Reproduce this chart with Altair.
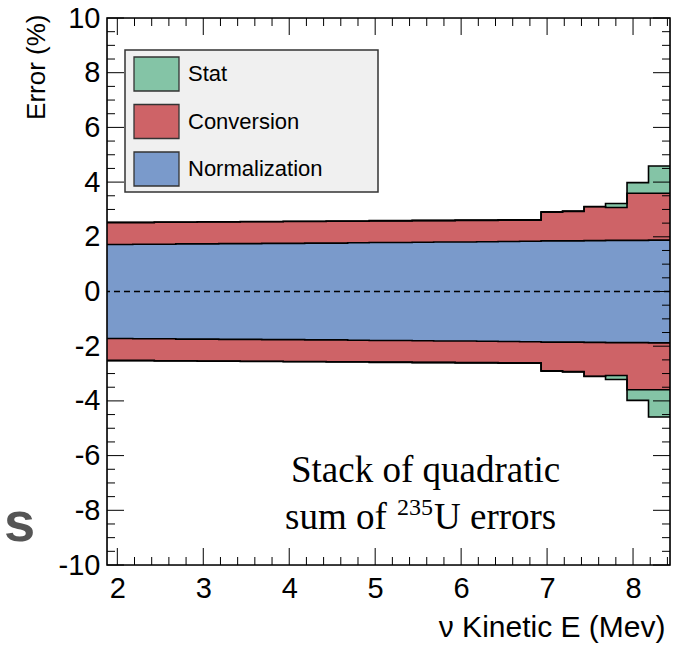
import altair as alt
import pandas as pd

# Energy bins (MeV): lower edges, 0.25 MeV wide; last upper edge separately
bin_lo = [1.68, 1.93, 2.18, 2.43, 2.68, 2.93, 3.18, 3.43, 3.68, 3.93, 4.18,
          4.43, 4.68, 4.93, 5.18, 5.43, 5.68, 5.93, 6.18, 6.43, 6.68, 6.93,
          7.18, 7.43, 7.68, 7.93, 8.18]
bin_last_hi = 8.43

# Cumulative (quadratic-sum) error levels in %, one value per bin
norm_err = [1.72, 1.72, 1.73, 1.73, 1.74, 1.74, 1.75, 1.75, 1.76, 1.76, 1.77,
            1.77, 1.78, 1.79, 1.79, 1.80, 1.81, 1.81, 1.82, 1.83, 1.84, 1.85,
            1.85, 1.86, 1.87, 1.87, 1.88]
conv_err = [2.52, 2.52, 2.52, 2.53, 2.53, 2.54, 2.54, 2.55, 2.55, 2.56, 2.56,
            2.57, 2.57, 2.58, 2.58, 2.59, 2.59, 2.60, 2.60, 2.61, 2.61, 2.90,
            2.93, 3.10, 3.07, 3.59, 3.59]
stat_err = [2.53, 2.53, 2.53, 2.54, 2.54, 2.55, 2.55, 2.56, 2.56, 2.57, 2.57,
            2.58, 2.58, 2.59, 2.59, 2.60, 2.60, 2.61, 2.61, 2.62, 2.62, 2.91,
            2.94, 3.11, 3.22, 3.98, 4.59]

legend_labels = ["Stat", "Conversion", "Normalization"]
legend_colors = ["#84C4A6", "#CE6367", "#7A9ACB"]

x_major = [2, 3, 4, 5, 6, 7, 8]
x_minor = [round(2 + 0.2 * k, 1) for k in range(1, 33) if (k % 5) != 0]
y_major = list(range(-10, 11, 2))
y_minor = [v / 2 for v in range(-20, 21) if v % 4 != 0]

W, H = 563, 547
FONT = "Liberation Sans"
SERIF = "Liberation Serif"

# step points: each bin's lower edge plus the final upper edge
xs = bin_lo + [bin_last_hi]
def ext(v):
    return v + [v[-1]]

bands = pd.DataFrame({
    "x": xs,
    "norm": ext(norm_err),
    "conv": ext(conv_err),
    "stat": ext(stat_err),
})
bands["nnorm"] = -bands["norm"]
bands["nconv"] = -bands["conv"]
bands["nstat"] = -bands["stat"]

edges = pd.concat([
    pd.DataFrame({"x": xs, "v": bands[c], "edge": c})
    for c in ["stat", "conv", "norm", "nnorm", "nconv", "nstat"]
])

XS = alt.Scale(domain=[1.88, 8.43], nice=False, zero=False)
YS = alt.Scale(domain=[-10, 10], nice=False, zero=False)

XA = alt.Axis(
    values=x_major, ticks=False, domain=False, grid=False,
    labelFont=FONT, labelFontSize=29, labelColor="black", labelPadding=9,
    labelFlush=False,
    title="\u03bd Kinetic E (Mev)", titleFont=FONT, titleFontSize=30,
    titleFontWeight="normal", titleColor="black", titleAnchor="end",
    titleAlign="right", titleBaseline="alphabetic", titleX=558, titleY=71,
)
YA = alt.Axis(
    values=y_major, ticks=False, domain=False, grid=False,
    labelFont=FONT, labelFontSize=29, labelColor="black", labelPadding=7,
    labelFlush=False, labelExpr="'' + datum.value",
    title="Error (%)", titleFont=FONT, titleFontSize=26,
    titleFontWeight="normal", titleColor="black", titleAngle=-90,
    titleAlign="right", titleBaseline="middle", titleX=-71, titleY=-4,
)

def xe(field):
    return alt.X(field, type="quantitative", scale=XS, axis=XA)

def ye(field):
    return alt.Y(field, type="quantitative", scale=YS, axis=YA)

# filled bands, outermost first
area = alt.Chart(bands).mark_area(interpolate="step-after", clip=True)
green = area.encode(x=xe("x"), y=ye("stat"), y2="nstat", color=alt.value(legend_colors[0]))
red = area.encode(x=xe("x"), y=ye("conv"), y2="nconv", color=alt.value(legend_colors[1]))
blue = area.encode(x=xe("x"), y=ye("norm"), y2="nnorm", color=alt.value(legend_colors[2]))

outline = alt.Chart(edges).mark_line(
    interpolate="step-after", clip=True, color="black", strokeWidth=1.6
).encode(x=xe("x"), y=ye("v"), detail="edge:N")

zero_df = pd.DataFrame({"v": [0]})
zero_line = alt.Chart(zero_df).mark_rule(
    color="black", strokeWidth=1.3, strokeDash=[6, 4]
).encode(y=ye("v"))

# inward tick marks on all four sides
def xticks(vals, length, top):
    d = pd.DataFrame({"v": vals})
    y0, y1 = (0, length) if top else (H, H - length)
    return alt.Chart(d).mark_rule(color="black", strokeWidth=1).encode(
        x=xe("v"), y=alt.value(y0), y2=alt.value(y1))

def yticks(vals, length, right):
    d = pd.DataFrame({"v": vals})
    x0, x1 = (W, W - length) if right else (0, length)
    return alt.Chart(d).mark_rule(color="black", strokeWidth=1).encode(
        y=ye("v"), x=alt.value(x0), x2=alt.value(x1))

frame = alt.Chart(pd.DataFrame({"a": [0]})).mark_rect(
    fill=None, stroke="black", strokeWidth=1.6
).encode(x=alt.value(0), x2=alt.value(W), y=alt.value(0), y2=alt.value(H))

# legend panel
leg_box = alt.Chart(pd.DataFrame({"a": [0]})).mark_rect(
    fill="#F0F0F0", stroke="#333333", strokeWidth=1.5
).encode(x=alt.value(18), x2=alt.value(271), y=alt.value(32), y2=alt.value(174))

leg_swatches = []
leg_texts = []
for i, (lab, col) in enumerate(zip(legend_labels, legend_colors)):
    top = 39 + 47.5 * i
    d = pd.DataFrame({"label": [lab]})
    leg_swatches.append(
        alt.Chart(d).mark_rect(fill=col, stroke="#333333", strokeWidth=1.3).encode(
            x=alt.value(27), x2=alt.value(72), y=alt.value(top), y2=alt.value(top + 34)))
    leg_texts.append(
        alt.Chart(d).mark_text(
            align="left", baseline="middle", font=FONT, fontSize=22, color="black"
        ).encode(text="label:N", x=alt.value(81), y=alt.value(top + 17)))

# annotation text
def label(txt, x, y, size, align="left", font=SERIF, color="black", weight="normal"):
    return alt.Chart(pd.DataFrame({"t": [txt]})).mark_text(
        align=align, baseline="alphabetic", font=font, fontSize=size,
        color=color, fontWeight=weight
    ).encode(text="t:N", x=alt.value(x), y=alt.value(y))

ann = [
    label("Stack of quadratic", 184, 464, 37),
    label("sum of", 178, 511, 37),
    label("235", 290, 497, 24),
    label("U errors", 327, 511, 37),
    label("s", -103, 523, 56, font=FONT, color="#555555", weight="bold"),
]

chart = alt.layer(
    yticks(y_major, 17, False), yticks(y_minor, 8, False),
    green, red, blue, outline, zero_line,
    xticks(x_major, 17, False), xticks(x_minor, 8, False),
    xticks(x_major, 17, True), xticks(x_minor, 8, True),
    yticks(y_major, 17, True), yticks(y_minor, 8, True),
    frame, leg_box, *leg_swatches, *leg_texts, *ann,
).properties(
    width=W, height=H,
    autosize=alt.AutoSizeParams(type="none"),
    padding={"left": 107, "top": 18, "right": 12, "bottom": 81},
).configure_view(stroke=None).configure(background="white")

chart.save("out.html", embed_options={"renderer": "svg", "actions": False})
